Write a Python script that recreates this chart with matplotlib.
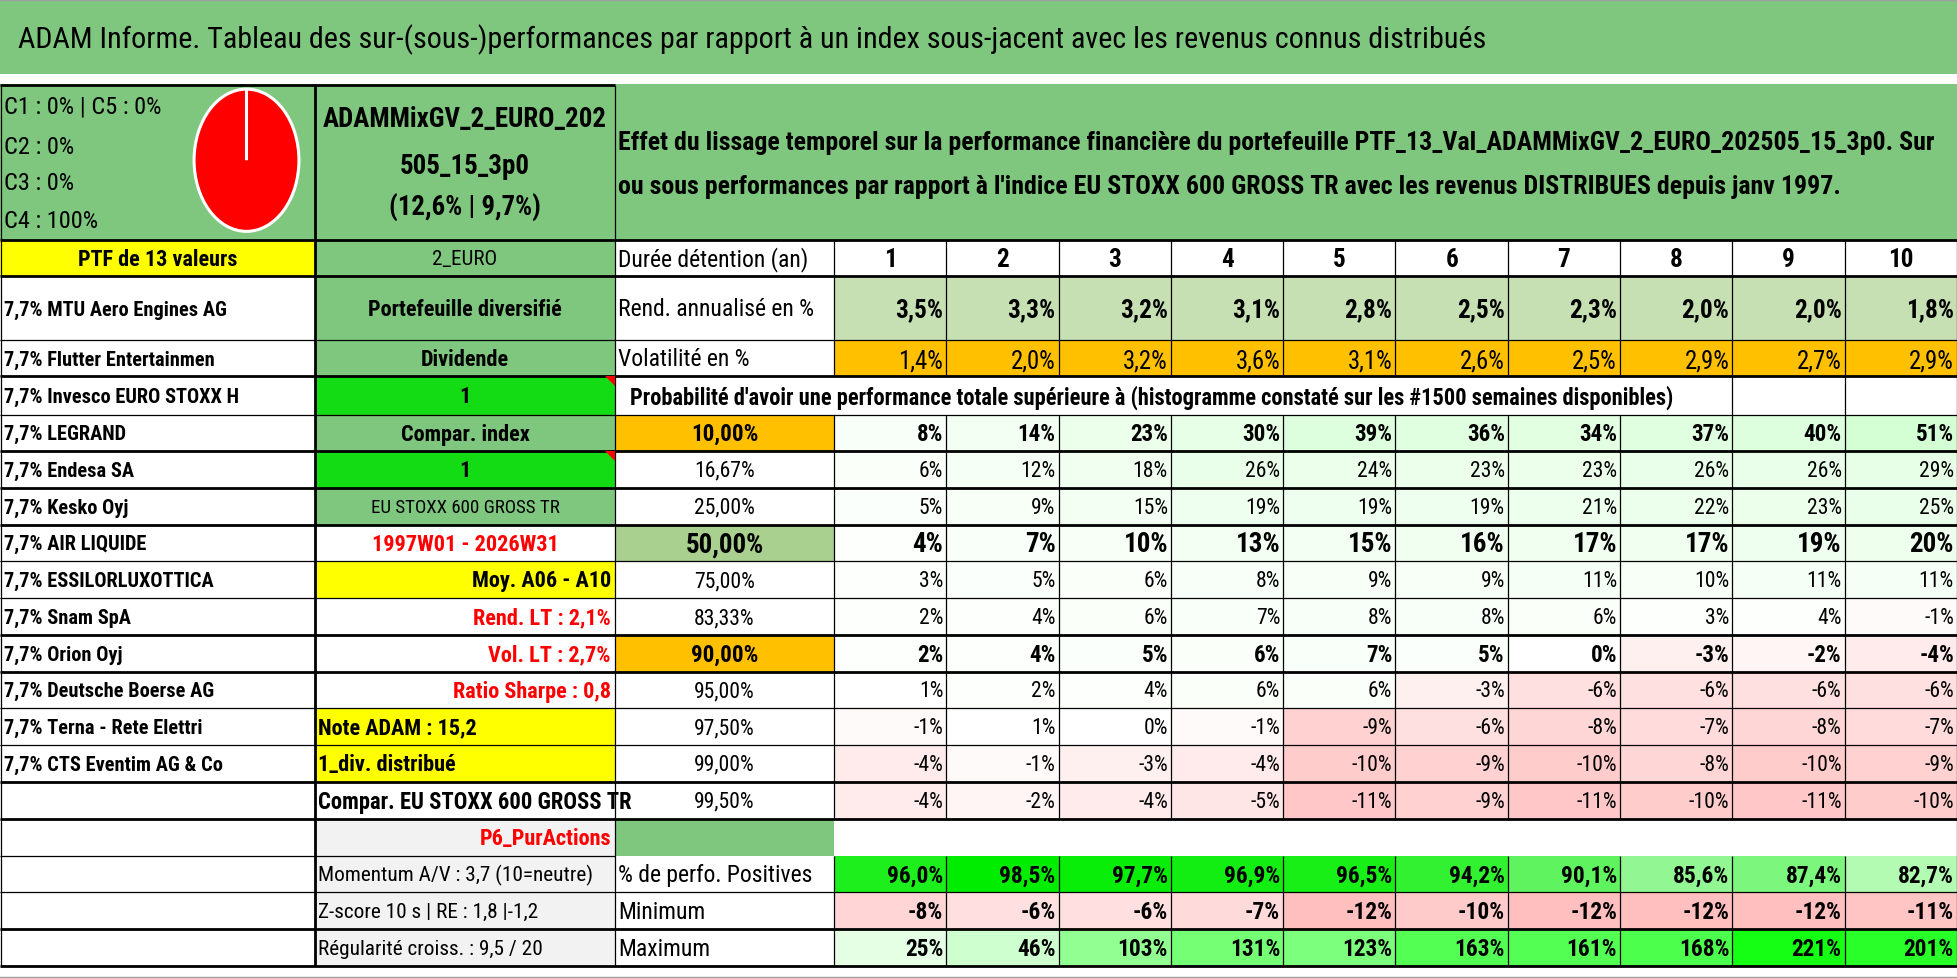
import matplotlib
matplotlib.use('Agg')
import matplotlib.pyplot as plt
from matplotlib.patches import Rectangle, Polygon
from matplotlib.textpath import TextPath
from matplotlib.font_manager import FontProperties, fontManager

# ---------------- data ----------------
title = ("ADAM Informe. Tableau des sur-(sous-)performances par rapport à un index "
         "sous-jacent avec les revenus connus distribués")
desc_lines = [
    "Effet du lissage temporel sur la performance financière du portefeuille "
    "PTF_13_Val_ADAMMixGV_2_EURO_202505_15_3p0. Sur",
    "ou sous performances par rapport à l'indice EU STOXX 600 GROSS TR avec les "
    "revenus DISTRIBUES depuis janv 1997.",
]
class_labels = ["C1", "C2", "C3", "C4", "C5"]
class_shares = [0, 0, 0, 100, 0]
portfolio_name = ["ADAMMixGV_2_EURO_202", "505_15_3p0", "(12,6% | 9,7%)"]
ptf_title = "PTF de 13 valeurs"
currency = "2_EURO"
holdings = ["MTU Aero Engines AG", "Flutter Entertainmen", "Invesco EURO STOXX H",
            "LEGRAND", "Endesa SA", "Kesko Oyj", "AIR LIQUIDE", "ESSILORLUXOTTICA",
            "Snam SpA", "Orion Oyj", "Deutsche Boerse AG", "Terna - Rete Elettri",
            "CTS Eventim AG & Co"]
weights = [7.7, 7.7, 7.7, 7.7, 7.7, 7.7, 7.7, 7.7, 7.7, 7.7, 7.7, 7.7, 7.7]
info_B = ["Portefeuille diversifié", "Dividende", "1", "Compar. index", "1",
          "EU STOXX 600 GROSS TR", "1997W01 - 2026W31", "Moy. A06 - A10",
          "Rend. LT : 2,1%", "Vol. LT : 2,7%", "Ratio Sharpe : 0,8",
          "Note ADAM : 15,2", "1_div. distribué", "Compar. EU STOXX 600 GROSS TR",
          "P6_PurActions", "Momentum A/V : 3,7 (10=neutre)",
          "Z-score 10 s | RE : 1,8 |-1,2", "Régularité croiss. : 9,5 / 20"]
years = [1, 2, 3, 4, 5, 6, 7, 8, 9, 10]
rend = [3.5, 3.3, 3.2, 3.1, 2.8, 2.5, 2.3, 2.0, 2.0, 1.8]
vol = [1.4, 2.0, 3.2, 3.6, 3.1, 2.6, 2.5, 2.9, 2.7, 2.9]
prob_title = ("Probabilité d'avoir une performance totale supérieure à (histogramme "
              "constaté sur les #1500 semaines disponibles)")
quantiles = [10.00, 16.67, 25.00, 50.00, 75.00, 83.33, 90.00, 95.00, 97.50, 99.00, 99.50]
prob = [
    [8, 14, 23, 30, 39, 36, 34, 37, 40, 51],
    [6, 12, 18, 26, 24, 23, 23, 26, 26, 29],
    [5, 9, 15, 19, 19, 19, 21, 22, 23, 25],
    [4, 7, 10, 13, 15, 16, 17, 17, 19, 20],
    [3, 5, 6, 8, 9, 9, 11, 10, 11, 11],
    [2, 4, 6, 7, 8, 8, 6, 3, 4, -1],
    [2, 4, 5, 6, 7, 5, 0, -3, -2, -4],
    [1, 2, 4, 6, 6, -3, -6, -6, -6, -6],
    [-1, 1, 0, -1, -9, -6, -8, -7, -8, -7],
    [-4, -1, -3, -4, -10, -9, -10, -8, -10, -9],
    [-4, -2, -4, -5, -11, -9, -11, -10, -11, -10],
]
stat_labels = ["% de perfo. Positives", "Minimum", "Maximum"]
pos_share = [96.0, 98.5, 97.7, 96.9, 96.5, 94.2, 90.1, 85.6, 87.4, 82.7]
minimum = [-8, -6, -6, -7, -12, -10, -12, -12, -12, -11]
maximum = [25, 46, 103, 131, 123, 163, 161, 168, 221, 201]

# ---------------- style ----------------
DPI = 100
W, H = 1958, 979

_names = {f.name for f in fontManager.ttflist}
_cands = ['Liberation Sans Narrow', 'Roboto Condensed', 'Open Sans Condensed',
          'Noto Sans Condensed', 'DejaVu Sans Condensed']
_main = next((c for c in _cands if c in _names), None)
if _main is None:
    _cond = sorted(n for n in _names if ('Condensed' in n or 'Narrow' in n))
    _main = _cond[0] if _cond else ('Roboto' if 'Roboto' in _names else 'Liberation Sans')
FAM = [_main, 'DejaVu Sans']

GREEN = '#7FC77F'
YELLOW = '#FFFF00'
BRIGHT = '#14DC14'
ORANGE = '#FFC000'
LGREEN = '#C6E0B4'
MGREEN = '#A9D08E'
GRAY = '#F2F2F2'
RED = '#FF0000'


def fit(s, target_px, weight='normal'):
    fp = FontProperties(family=FAM, weight=weight)
    w = TextPath((0, 0), s, size=100, prop=fp).get_extents().width
    return 100 * target_px / (w * DPI / 72.0)


def fr(v, nd):
    return f"{v:.{nd}f}%".replace('.', ',')


fs_title = fit(title, 1468)
fs_desc = fit(desc_lines[0], 1317, 'bold')
fs_prob = fit(prob_title, 1048, 'bold')
fs_name = fit("7,7% MTU Aero Engines AG", 221, 'bold')
fs_label = fit("Rend. annualisé en %", 194)
fs_Bb = fit("Portefeuille diversifié", 192, 'bold')
fs_Bn = fit("Momentum A/V : 3,7 (10=neutre)", 273)
fs_small = fit("EU STOXX 600 GROSS TR", 187)
fs_comp = fit("Compar. EU STOXX 600 GROSS TR", 312, 'bold')
fs_val = fit("16,67%", 58)
fs_valb = fit("10,00%", 64, 'bold')
fs_big = fit("50,00%", 76, 'bold')
fs_rend = fit("3,5%", 46, 'bold')
fs_volv = fit("1,4%", 42)
fs_cls = fit("C1 : 0% | C5 : 0%", 155)
fs_top = fit(portfolio_name[0], 284, 'bold')
fs_ptf = fit(ptf_title, 157, 'bold')
fs_stat = fit("96,0%", 54, 'bold')
fs_cur = fit(currency, 63)

fig = plt.figure(figsize=(W / DPI, H / DPI), dpi=DPI)
ax = fig.add_axes([0, 0, 1, 1])
ax.set_xlim(0, W)
ax.set_ylim(H, 0)
ax.axis('off')

xA0, xB0, xC0, xV0, xEnd = 0, 315, 615, 834, 1957
colw = (xEnd - xV0) / 10.0
vx = [xV0 + colw * i for i in range(11)]
ry = [240.7, 277, 341, 377, 415.7, 451.7, 489, 525.7, 562, 599, 636, 672.7,
      709, 746, 782.7, 820, 856.7, 893, 930, 966.7]


def rect(x0, x1, y0, y1, color):
    ax.add_patch(Rectangle((x0, y0), x1 - x0, y1 - y0, facecolor=color,
                           edgecolor='none', zorder=1))


def txt(x, y, s, fs, ha='left', weight='normal', color='black', clip=None):
    t = ax.text(x, y, s, ha=ha, va='center', fontsize=fs, fontweight=weight,
                color=color, family=FAM, zorder=3)
    if clip is not None:
        cp = Rectangle((clip[0], clip[2]), clip[1] - clip[0], clip[3] - clip[2],
                       transform=ax.transData, facecolor='none', edgecolor='none')
        t.set_clip_path(cp)
    return t


def hl(y, x0, x1, lw=0.9):
    ax.plot([x0, x1], [y, y], color='black', lw=lw, zorder=4, solid_capstyle='butt')


def vl(x, y0, y1, lw=0.9):
    ax.plot([x, x], [y0, y1], color='black', lw=lw, zorder=4, solid_capstyle='butt')


def mid(r):
    return (ry[r] + ry[r + 1]) / 2.0 + 1


def blend(c, t):
    t = max(0.0, min(1.0, t))
    return tuple(1 - t * (1 - ci) for ci in c)


def heat(v, pos_scale, neg_scale):
    if v > 0:
        return blend((0, 1, 0), v / pos_scale)
    if v < 0:
        return blend((1, 0, 0), -v / neg_scale)
    return (1, 1, 1)


# ---------------- title ----------------
rect(0, W, 1, 75, GREEN)
ax.plot([0, W], [0.5, 0.5], color='#A0A0A0', lw=1, zorder=4)
txt(18, 40, title, fs_title)

# ---------------- top block ----------------
rect(xA0, xB0, 85, ry[0], GREEN)
rect(xB0, xC0, 85, ry[0], GREEN)
rect(xC0, xEnd, 85, ry[0], GREEN)
cls_lines = [f"{class_labels[0]} : {class_shares[0]}% | {class_labels[4]} : {class_shares[4]}%",
             f"{class_labels[1]} : {class_shares[1]}%",
             f"{class_labels[2]} : {class_shares[2]}%",
             f"{class_labels[3]} : {class_shares[3]}%"]
for s, y in zip(cls_lines, [107, 147, 184, 222]):
    txt(4, y, s, fs_cls)
for s, y in zip(portfolio_name, [120, 166, 208]):
    txt((xB0 + xC0) / 2, y, s, fs_top, ha='center', weight='bold')
for s, y in zip(desc_lines, [143, 187]):
    txt(618, y, s, fs_desc, weight='bold')

pax = fig.add_axes([192.5 / W, (H - 234.5) / H, 108 / W, 146.5 / H])
pax.pie(class_shares, colors=[RED] * 5, startangle=90, counterclock=False,
        wedgeprops=dict(edgecolor='white', linewidth=2.2))
pax.set_aspect('auto')
pax.set_xlim(-1.03, 1.03)
pax.set_ylim(-1.03, 1.03)
pax.axis('off')

# ---------------- header row ----------------
rect(xA0, xB0, ry[0], ry[1], YELLOW)
txt((xA0 + xB0) / 2, mid(0), ptf_title, fs_ptf, ha='center', weight='bold')
rect(xB0, xC0, ry[0], ry[1], GREEN)
txt((xB0 + xC0) / 2, mid(0), currency, fs_cur, ha='center')
txt(618, mid(0), "Durée détention (an)", fs_label)
for i, yv in enumerate(years):
    txt((vx[i] + vx[i + 1]) / 2, mid(0), str(yv), fs_rend, ha='center', weight='bold')

# ---------------- column A names ----------------
for k, (w_, n) in enumerate(zip(weights, holdings)):
    txt(4, mid(k + 1), f"{fr(w_, 1)} {n}", fs_name, weight='bold')

# ---------------- column B info ----------------
B_style = [
    (GREEN, 'black', 'center', 'bold', fs_Bb),
    (GREEN, 'black', 'center', 'bold', fs_Bb),
    (BRIGHT, 'black', 'center', 'bold', fs_Bb),
    (GREEN, 'black', 'center', 'bold', fs_Bb),
    (BRIGHT, 'black', 'center', 'bold', fs_Bb),
    (GREEN, 'black', 'center', 'normal', fs_small),
    ('white', RED, 'center', 'bold', fs_Bb),
    (YELLOW, 'black', 'right', 'bold', fs_Bb),
    ('white', RED, 'right', 'bold', fs_Bb),
    ('white', RED, 'right', 'bold', fs_Bb),
    ('white', RED, 'right', 'bold', fs_Bb),
    (YELLOW, 'black', 'left', 'bold', fs_Bb),
    (YELLOW, 'black', 'left', 'bold', fs_Bb),
    ('white', 'black', 'left', 'bold', fs_comp),
    (GRAY, RED, 'right', 'bold', fs_Bb),
    (GRAY, 'black', 'left', 'normal', fs_Bn),
    (GRAY, 'black', 'left', 'normal', fs_Bn),
    (GRAY, 'black', 'left', 'normal', fs_Bn),
]
for k, (s, st) in enumerate(zip(info_B, B_style)):
    r = k + 1
    bg, col, ha, wt, fs = st
    rect(xB0, xC0, ry[r], ry[r + 1], bg)
    x = {'center': (xB0 + xC0) / 2, 'right': xC0 - 4, 'left': xB0 + 3}[ha]
    txt(x, mid(r), s, fs, ha=ha, weight=wt, color=col,
        clip=(xB0, xC0 - 1, ry[r], ry[r + 1]))
    if s == "1":
        ax.add_patch(Polygon([[xC0 - 10, ry[r]], [xC0, ry[r]], [xC0, ry[r] + 10]],
                             closed=True, facecolor=RED, edgecolor='none', zorder=5))

# ---------------- rend / vol rows ----------------
txt(618, mid(1), "Rend. annualisé en %", fs_label)
txt(618, mid(2), "Volatilité en %", fs_label)
for i in range(10):
    rect(vx[i], vx[i + 1], ry[1], ry[2], LGREEN)
    txt(vx[i + 1] - 3, mid(1), fr(rend[i], 1), fs_rend, ha='right', weight='bold')
    rect(vx[i], vx[i + 1], ry[2], ry[3], ORANGE)
    txt(vx[i + 1] - 3, mid(2) + 2, fr(vol[i], 1), fs_volv, ha='right')

# ---------------- probability block ----------------
txt(630, mid(3), prob_title, fs_prob, weight='bold')
q_bg = {0: ORANGE, 3: MGREEN, 6: ORANGE}
for j, q in enumerate(quantiles):
    r = 4 + j
    if j in q_bg:
        rect(xC0, xV0, ry[r], ry[r + 1], q_bg[j])
    if j == 3:
        fsq, wq, fsv = fs_big, 'bold', fs_big
    elif j in (0, 6):
        fsq, wq, fsv = fs_valb, 'bold', fs_valb
    else:
        fsq, wq, fsv = fs_val, 'normal', fs_val
    txt((xC0 + xV0) / 2, mid(r), fr(q, 2), fsq, ha='center', weight=wq)
    for i in range(10):
        v = prob[j][i]
        rect(vx[i], vx[i + 1], ry[r], ry[r + 1], heat(v, 300.0, 50.0))
        txt(vx[i + 1] - 3, mid(r), f"{v}%", fsv, ha='right', weight=wq)

# ---------------- P6 row ----------------
rect(xC0, xV0, ry[15], ry[16], GREEN)

# ---------------- stats rows ----------------
lo, hi = min(pos_share), max(pos_share)
for k, lab in enumerate(stat_labels):
    txt(618, mid(16 + k), lab, fs_label)
for i in range(10):
    t = 0.3 + 0.7 * (pos_share[i] - lo) / (hi - lo)
    rect(vx[i], vx[i + 1], ry[16], ry[17], blend((0, 0.93, 0), t))
    txt(vx[i + 1] - 3, mid(16), fr(pos_share[i], 1), fs_stat, ha='right', weight='bold')
    rect(vx[i], vx[i + 1], ry[17], ry[18], heat(minimum[i], 240.0, 48.0))
    txt(vx[i + 1] - 3, mid(17), f"{minimum[i]}%", fs_stat, ha='right', weight='bold')
    rect(vx[i], vx[i + 1], ry[18], ry[19], heat(maximum[i], 240.0, 48.0))
    txt(vx[i + 1] - 3, mid(18), f"{maximum[i]}%", fs_stat, ha='right', weight='bold')

# ---------------- grid lines ----------------
TH, TN = 2.0, 0.9
hl(85.7, xA0, xC0, TH)
thick_rows = {0, 1, 3, 5, 6, 7, 10, 11, 14, 15, 18, 19}
for r, y in enumerate(ry):
    lw = TH if r in thick_rows else TN
    if r == 16:
        hl(y, xA0, xC0, lw)
    else:
        hl(y, xA0, xEnd, lw)
vl(1, 85.7, ry[-1], TN)
vl(xB0, 85.7, ry[-1], TH)
vl(xC0, 85.7, ry[-1], TN)
segs = [(ry[0], ry[3]), (ry[4], ry[15]), (ry[16], ry[19])]
for i in range(10):
    x = vx[i]
    for y0, y1 in segs:
        vl(x, y0, y1, TN)
for x in (vx[8], vx[9]):
    vl(x, ry[3], ry[4], TN)
vl(xEnd, ry[0], ry[-1], TN)
ax.plot([0, W], [978, 978], color='#A0A0A0', lw=1, zorder=4)

fig.savefig('out.png', dpi=DPI)
